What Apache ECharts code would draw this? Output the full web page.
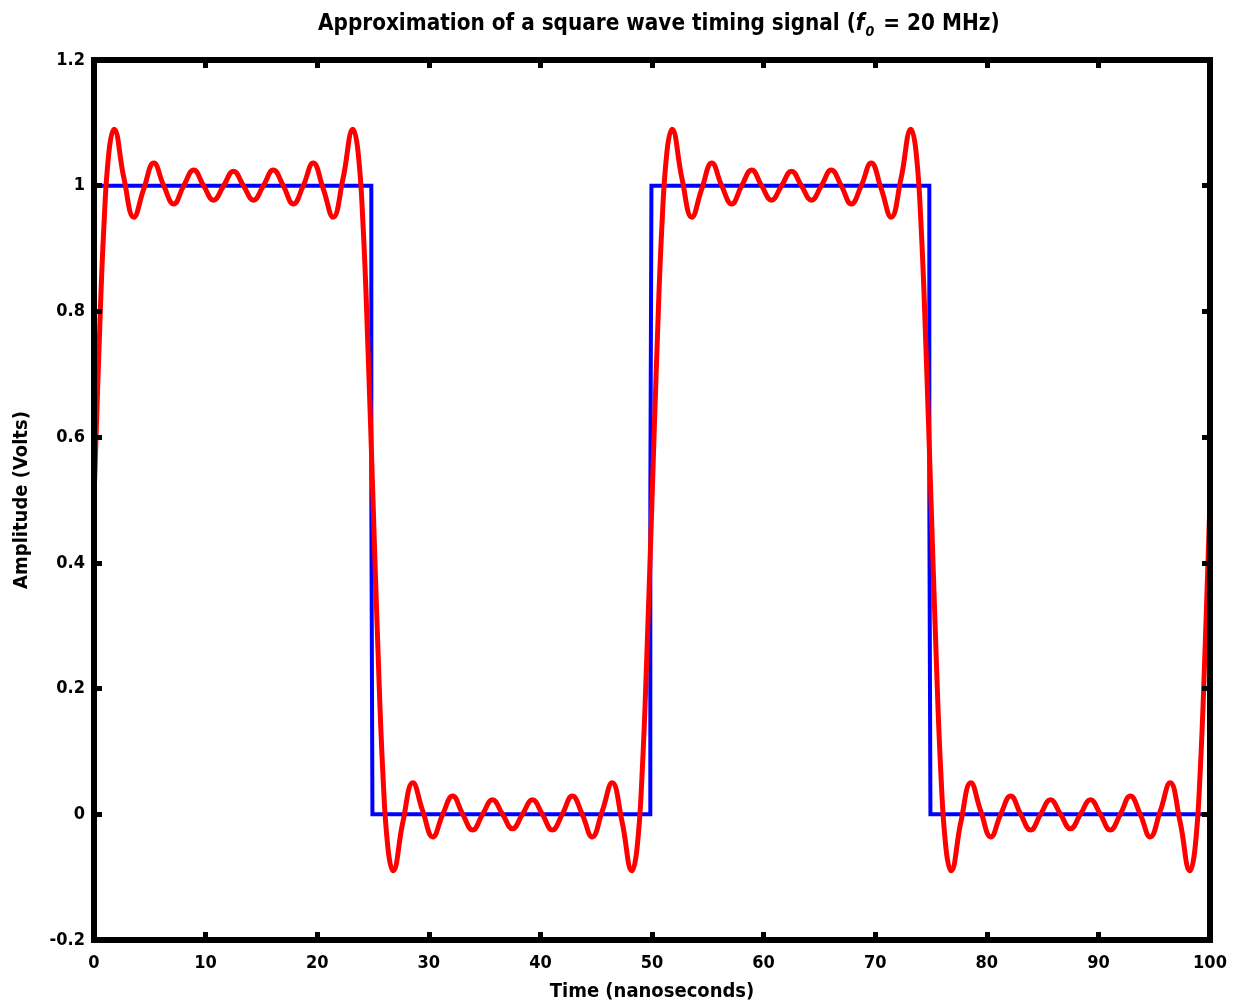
<!DOCTYPE html>
<html><head><meta charset="utf-8">
<script src="https://cdn.jsdelivr.net/npm/echarts@6/dist/echarts.min.js"></script>
<style>html,body{margin:0;padding:0;background:#fff}#c{width:1233px;height:1002px}</style>
</head><body><div id="c"></div>
<script>
// Tick values
const xTickMin = 0, xTickMax = 100, xTickStep = 10;
const yTickMin = -0.2, yTickMax = 1.2, yTickStep = 0.2;

// Ideal square wave (blue)
const blueTime = [0, 24.85, 24.85, 24.95, 24.95, 49.85, 49.85, 49.95, 49.95, 74.85, 74.85, 74.95, 74.95, 100];
const blueAmp  = [1, 1, 0.5, 0.5, 0, 0, 0.5, 0.5, 1, 1, 0.5, 0.5, 0, 0];

// Fourier approximation (red): extrema, mid-crossings and edge points
const redTime = [
  0, 0.45, 0.89, 1.34, 1.79, 2.68, 3.57, 4.46, 5.36, 6.25, 7.14, 8.04, 8.93, 9.82, 10.71, 11.61, 12.5, 13.39, 14.29, 15.18, 16.07, 16.96, 17.86, 18.75, 19.64, 20.54, 21.43, 22.32, 23.21, 23.66, 24.11, 24.55,
  25, 25.45, 25.89, 26.34, 26.79, 27.68, 28.57, 29.46, 30.36, 31.25, 32.14, 33.04, 33.93, 34.82, 35.71, 36.61, 37.5, 38.39, 39.29, 40.18, 41.07, 41.96, 42.86, 43.75, 44.64, 45.54, 46.43, 47.32, 48.21, 48.66, 49.11, 49.55,
  50, 50.45, 50.89, 51.34, 51.79, 52.68, 53.57, 54.46, 55.36, 56.25, 57.14, 58.04, 58.93, 59.82, 60.71, 61.61, 62.5, 63.39, 64.29, 65.18, 66.07, 66.96, 67.86, 68.75, 69.64, 70.54, 71.43, 72.32, 73.21, 73.66, 74.11, 74.55,
  75, 75.45, 75.89, 76.34, 76.79, 77.68, 78.57, 79.46, 80.36, 81.25, 82.14, 83.04, 83.93, 84.82, 85.71, 86.61, 87.5, 88.39, 89.29, 90.18, 91.07, 91.96, 92.86, 93.75, 94.64, 95.54, 96.43, 97.32, 98.21, 98.66, 99.11, 99.55,
  100
];
const redAmp = [
  0.5, 0.741, 0.937, 1.054, 1.090, 1.012, 0.950, 0.995, 1.036, 1.0, 0.971, 1.0, 1.025, 1.0, 0.977, 1.0, 1.023, 1.0, 0.977, 1.0, 1.025, 1.0, 0.971, 1.0, 1.036, 0.995, 0.950, 1.012, 1.090, 1.054, 0.937, 0.741,
  0.5, 0.259, 0.063, -0.054, -0.090, -0.012, 0.050, 0.005, -0.036, 0.0, 0.029, 0.0, -0.025, 0.0, 0.023, 0.0, -0.023, 0.0, 0.023, 0.0, -0.025, 0.0, 0.029, 0.0, -0.036, 0.005, 0.050, -0.012, -0.090, -0.054, 0.063, 0.259,
  0.5, 0.741, 0.937, 1.054, 1.090, 1.012, 0.950, 0.995, 1.036, 1.0, 0.971, 1.0, 1.025, 1.0, 0.977, 1.0, 1.023, 1.0, 0.977, 1.0, 1.025, 1.0, 0.971, 1.0, 1.036, 0.995, 0.950, 1.012, 1.090, 1.054, 0.937, 0.741,
  0.5, 0.259, 0.063, -0.054, -0.090, -0.012, 0.050, 0.005, -0.036, 0.0, 0.029, 0.0, -0.025, 0.0, 0.023, 0.0, -0.023, 0.0, 0.023, 0.0, -0.025, 0.0, 0.029, 0.0, -0.036, 0.005, 0.050, -0.012, -0.090, -0.054, 0.063, 0.259,
  0.5
];

const FONT = "'DejaVu Sans Condensed', 'DejaVu Sans', sans-serif";
const chart = echarts.init(document.getElementById('c'), null, {renderer: 'canvas'});

function axisCommon(show) {
  return {
    axisLine: {show: true, onZero: false, lineStyle: {color: '#000', width: 6, cap: 'square'}},
    axisTick: {show: true, inside: true, length: 8, lineStyle: {color: '#000', width: 5}},
    axisLabel: {show: show, color: '#000', fontFamily: FONT, fontWeight: 'bold', fontSize: 18},
    splitLine: {show: false},
    z: 10
  };
}

const option = {
  animation: false,
  backgroundColor: '#fff',
  title: {
    text: '{a|Approximation of a square wave timing signal (}{i|f}{s|0}{a| = 20 MHz)}',
    left: 313,
    top: 5,
    textStyle: {
      rich: {
        a: {fontFamily: FONT, fontWeight: 'bold', fontSize: 22.3, color: '#000', lineHeight: 28},
        i: {fontFamily: FONT, fontWeight: 'bold', fontStyle: 'italic', fontSize: 22.3, color: '#000', lineHeight: 28},
        s: {fontFamily: FONT, fontWeight: 'bold', fontStyle: 'italic', fontSize: 14, color: '#000', lineHeight: 28, padding: [16, 2, 0, 1]}
      }
    }
  },
  grid: {left: 94, right: 23, top: 60, bottom: 62, containLabel: false, outerBoundsMode: 'none'},
  xAxis: [
    Object.assign(axisCommon(true), {
      type: 'value', position: 'bottom', min: xTickMin, max: xTickMax, interval: xTickStep,
      name: 'Time (nanoseconds)', nameLocation: 'middle', nameGap: 42,
      nameTextStyle: {color: '#000', fontFamily: FONT, fontWeight: 'bold', fontSize: 20},
      axisLabel: {show: true, color: '#000', fontFamily: FONT, fontWeight: 'bold', fontSize: 18, margin: 14}
    }),
    Object.assign(axisCommon(false), {
      type: 'value', position: 'top', min: xTickMin, max: xTickMax, interval: xTickStep
    })
  ],
  yAxis: [
    Object.assign(axisCommon(true), {
      type: 'value', position: 'left', min: yTickMin, max: yTickMax, interval: yTickStep,
      name: 'Amplitude (Volts)', nameLocation: 'middle', nameGap: 62, nameRotate: 90,
      nameTextStyle: {color: '#000', fontFamily: FONT, fontWeight: 'bold', fontSize: 20},
      axisLabel: {show: true, color: '#000', fontFamily: FONT, fontWeight: 'bold', fontSize: 18, margin: 9}
    }),
    Object.assign(axisCommon(false), {
      type: 'value', position: 'right', min: yTickMin, max: yTickMax, interval: yTickStep
    })
  ],
  series: [
    {
      type: 'line', name: 'square', xAxisIndex: 0, yAxisIndex: 0,
      data: blueTime.map((t, i) => [t, blueAmp[i]]),
      showSymbol: false, symbol: 'none',
      lineStyle: {color: '#0000ff', width: 4, join: 'miter'},
      z: 2
    },
    {
      type: 'line', name: 'approx', xAxisIndex: 0, yAxisIndex: 0,
      data: redTime.map((t, i) => [t, redAmp[i]]),
      smooth: 0.45, showSymbol: false, symbol: 'none',
      lineStyle: {color: '#ff0000', width: 5},
      z: 3
    }
  ]
};
chart.setOption(option);
</script>
</body></html>
